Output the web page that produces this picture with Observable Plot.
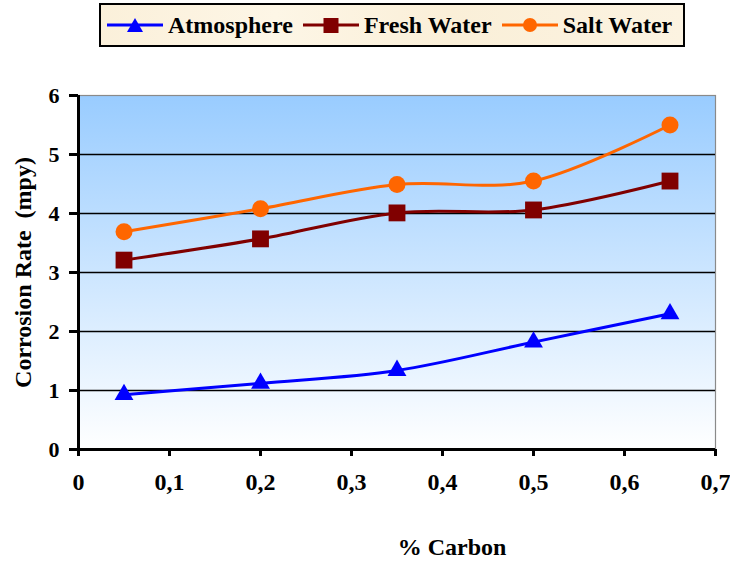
<!DOCTYPE html>
<html><head><meta charset="utf-8">
<script src="https://cdn.jsdelivr.net/npm/d3@7"></script>
<script src="https://cdn.jsdelivr.net/npm/@observablehq/plot@0.6"></script>
<style>
body{margin:0;background:#fff;font-family:'Liberation Serif','Times New Roman',serif;}
#wrap{position:relative;width:730px;height:564px;}
#legend{position:absolute;left:99px;top:3px;width:582px;height:40px;border:2px solid #000;
  background:linear-gradient(90deg,#fbf0da,#fdf6e6 30%,#faefd8 60%,#fcf3e1);
  display:flex;align-items:center;font-weight:bold;font-size:24px;color:#000;}
.item{display:flex;align-items:center;margin-left:6px;margin-right:4px;white-space:nowrap;}
.item svg{margin-right:5px;}
#xlabel{position:absolute;top:534px;left:452px;transform:translateX(-50%);font-weight:bold;font-size:24px;white-space:nowrap;}
#chart{position:absolute;left:0;top:0;}
#chart svg text{font-family:'Liberation Serif','Times New Roman',serif;white-space:pre;}
</style></head>
<body>
<div id="wrap">
  <div id="chart"></div>
  <div id="legend"></div>
  <div id="xlabel">% Carbon</div>
</div>
<script>
const carbon = [0.05, 0.2, 0.35, 0.5, 0.65];
const atmosphere = [0.93, 1.12, 1.34, 1.82, 2.30];
const freshWater = [3.21, 3.57, 4.01, 4.06, 4.55];
const saltWater = [3.69, 4.08, 4.49, 4.55, 5.50];
const seriesNames = ["Atmosphere", "Fresh Water", "Salt Water"];
const seriesColors = ["#0000FF", "#800000", "#FF6600"];
const seriesSymbols = ["triangle", "square", "circle"];
const xTicks = [0, 0.1, 0.2, 0.3, 0.4, 0.5, 0.6, 0.7];
const yTicks = [0, 1, 2, 3, 4, 5, 6];
const gridValues = [1, 2, 3, 4, 5];
const yLabel = "Corrosion Rate  (mpy)";

const seriesValues = [atmosphere, freshWater, saltWater];
const rows = seriesNames.flatMap((s, i) => carbon.map((c, j) => ({series: s, carbon: c, rate: seriesValues[i][j]})));
const radii = {"Atmosphere": 7, "Fresh Water": 9.5, "Salt Water": 8.5};

const plot = Plot.plot({
  width: 730, height: 564,
  marginLeft: 78, marginRight: 15, marginTop: 95, marginBottom: 115,
  style: {fontFamily: "'Liberation Serif', 'Times New Roman', serif", fontWeight: "bold", fontSize: "22px", color: "#000", background: "transparent"},
  x: {domain: [0, 0.7]},
  y: {domain: [0, 6]},
  color: {domain: seriesNames, range: seriesColors},
  symbol: {domain: seriesNames, range: seriesSymbols},
  marks: [
    Plot.frame({fill: "url(#bgGrad)", stroke: "#8a8a8a", strokeWidth: 1.2}),
    Plot.ruleY(gridValues, {stroke: "#000", strokeWidth: 1.5}),
    Plot.axisY({ticks: yTicks, tickSize: 9, tickPadding: 10, strokeWidth: 3, fontSize: 22,
      tickFormat: d => String(d),
      label: yLabel, labelAnchor: "center", labelOffset: 65, labelArrow: "none"}),
    Plot.axisX({ticks: xTicks, tickSize: 7, tickPadding: 16, strokeWidth: 3, fontSize: 24,
      tickFormat: d => String(d).replace(".", ","), label: null}),
    Plot.ruleX([0], {stroke: "#000", strokeWidth: 3}),
    Plot.ruleY([0], {stroke: "#000", strokeWidth: 3}),
    Plot.line(rows, {x: "carbon", y: "rate", stroke: "series", z: "series", curve: "cardinal", strokeWidth: 3}),
    ...seriesNames.map(s => Plot.dot(rows.filter(d => d.series === s), {
      x: "carbon", y: "rate", fill: "series", symbol: "series", r: radii[s], stroke: "none"
    }))
  ]
});

const ns = "http://www.w3.org/2000/svg";
const defs = document.createElementNS(ns, "defs");
defs.innerHTML = '<linearGradient id="bgGrad" x1="0" y1="0" x2="0" y2="1">' +
  '<stop offset="0" stop-color="#99CCFF"/><stop offset="1" stop-color="#FFFFFF"/></linearGradient>';
plot.insertBefore(defs, plot.firstChild);
plot.querySelectorAll("g[aria-label='y-axis label'] text, g[aria-label='y-axis label']").forEach(e => e.setAttribute("font-size", "24"));
document.getElementById("chart").appendChild(plot);

const legend = document.getElementById("legend");
seriesNames.forEach((s, i) => {
  const item = document.createElement("div");
  item.className = "item";
  let marker;
  if (seriesSymbols[i] === "triangle") marker = '<polygon points="28,3 36,17 20,17" fill="' + seriesColors[i] + '"/>';
  else if (seriesSymbols[i] === "square") marker = '<rect x="20.5" y="3" width="15" height="15" fill="' + seriesColors[i] + '"/>';
  else marker = '<circle cx="28" cy="10" r="7" fill="' + seriesColors[i] + '"/>';
  item.innerHTML = '<svg width="56" height="20"><line x1="0" y1="10" x2="56" y2="10" stroke="' + seriesColors[i] + '" stroke-width="3"/>' + marker + '</svg><span>' + s + '</span>';
  legend.appendChild(item);
});
</script>
</body></html>
